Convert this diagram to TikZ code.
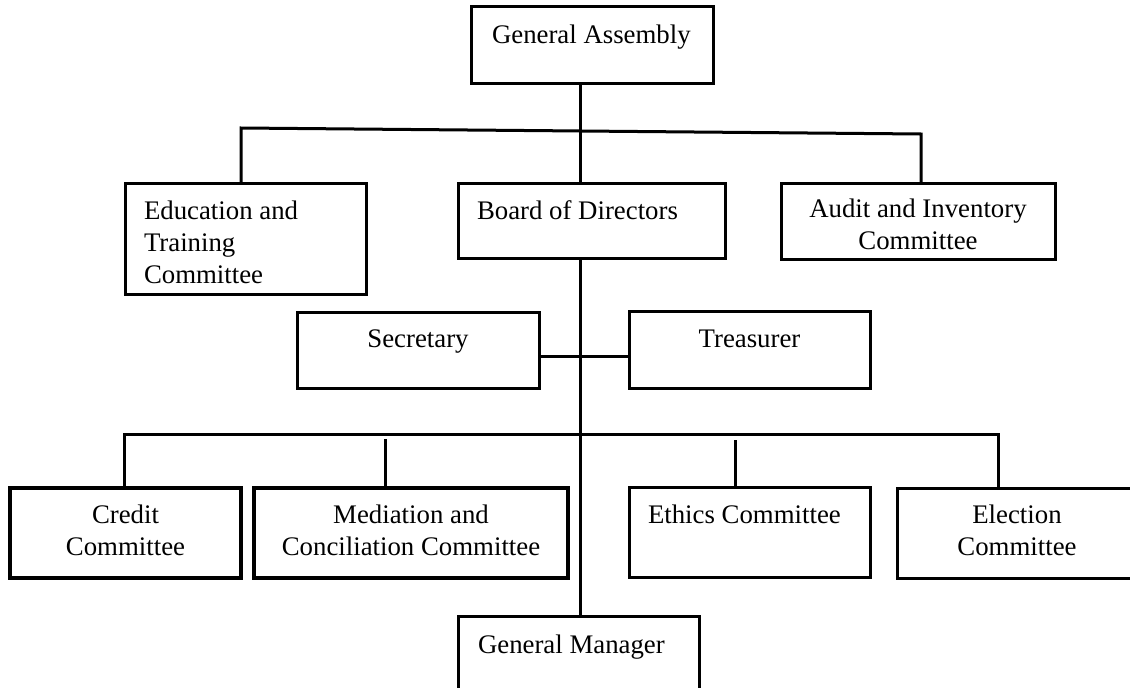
\documentclass[tikz,border=0pt]{standalone}
\usepackage{fontspec}
\setmainfont{Liberation Serif}
\newcommand{\linesc}[1]{\begin{tabular}[t]{@{}c@{}}#1\end{tabular}}
\newcommand{\linesl}[1]{\begin{tabular}[t]{@{}l@{}}#1\end{tabular}}
\begin{document}
\begin{tikzpicture}[x=1pt,y=-1pt,
  box/.style={draw=black, line width=3pt, inner sep=0pt, outer sep=0pt, anchor=north west},
  heavybox/.style={box, line width=3.4pt},
  lbl/.style={inner sep=0pt, outer sep=0pt, font=\fontsize{26.8}{32}\selectfont},
  link/.style={draw=black, line width=3pt, line cap=butt}
]
\useasboundingbox (0,0) rectangle (1130,688);
\fill[white] (0,0) rectangle (1130,688);
\clip (0,0) rectangle (1130,688);

% helper coordinates for the trunk and the two distribution bars
\coordinate (spine) at (580,0);
\coordinate (barTL) at (241,128);
\coordinate (barTR) at (921,134);
\coordinate (barBL) at (124,434);
\coordinate (barBR) at (998,434);
\coordinate (medTop) at (385,439);
\coordinate (ethTop) at (735,440);

% boxes
\node[box, minimum width=242pt, minimum height=77pt]  (ga)  at (471,6)   {};
\node[box, minimum width=267pt, minimum height=75pt]  (brd) at (458,183) {};
\node[box, minimum width=241pt, minimum height=111pt] (edu) at (125,183) {};
\node[box, minimum width=274pt, minimum height=76pt]  (aud) at (781,183) {};
\node[box, minimum width=242pt, minimum height=76pt]  (sec) at (297,312) {};
\node[box, minimum width=241pt, minimum height=77pt]  (tre) at (629,311) {};
\node[heavybox, minimum width=231pt, minimum height=90pt] (cre) at (10,488)  {};
\node[heavybox, minimum width=314pt, minimum height=90pt] (med) at (254,488) {};
\node[box, minimum width=241pt, minimum height=90pt]  (eth) at (629,487) {};
\node[box, minimum width=240pt, minimum height=90pt]  (ele) at (897,488) {};
\node[box, minimum width=241pt, minimum height=90pt]  (gm)  at (458,616) {};

% box texts
\node[lbl, anchor=base west] (ga-t)  at (492,43)  {General Assembly};
\node[lbl, anchor=base west] (brd-t) at (477,219) {Board of Directors};
\node[lbl, anchor=base west] (edu-t) at (144,219) {\linesl{Education and\\Training\\Committee}};
\node[lbl, anchor=base]      (aud-t) at (918,217) {\linesc{Audit and Inventory\\Committee}};
\node[lbl, anchor=base]      (sec-t) at (418,347) {Secretary};
\node[lbl, anchor=base]      (tre-t) at (749.5,347) {Treasurer};
\node[lbl, anchor=base]      (cre-t) at (125.5,523) {\linesc{Credit\\Committee}};
\node[lbl, anchor=base]      (med-t) at (411,523) {\linesc{Mediation and\\Conciliation Committee}};
\node[lbl, anchor=base west] (eth-t) at (648,523) {Ethics Committee};
\node[lbl, anchor=base]      (ele-t) at (1017,523) {\linesc{Election\\Committee}};
\node[lbl, anchor=base west] (gm-t)  at (478,653) {General Manager};

% trunk
\draw[link] (ga.south -| spine) -- (brd.north -| spine);
\draw[link] (brd.south -| spine) -- (gm.north -| spine);

% upper bar: committees reporting to the assembly
\draw[link] (edu.north -| barTL) -- (barTL) -- (barTR) -- (aud.north -| barTR);

% secretary and treasurer beside the trunk
\draw[link] ([yshift=-6pt]sec.east) -- ([yshift=-6pt]sec.east -| tre.west);

% lower bar: committees under the board
\draw[link] (cre.north -| barBL) -- (barBL) -- (barBR) -- (ele.north -| barBR);
\draw[link] (medTop) -- (med.north -| medTop);
\draw[link] (ethTop) -- (eth.north -| ethTop);
\end{tikzpicture}
\end{document}
